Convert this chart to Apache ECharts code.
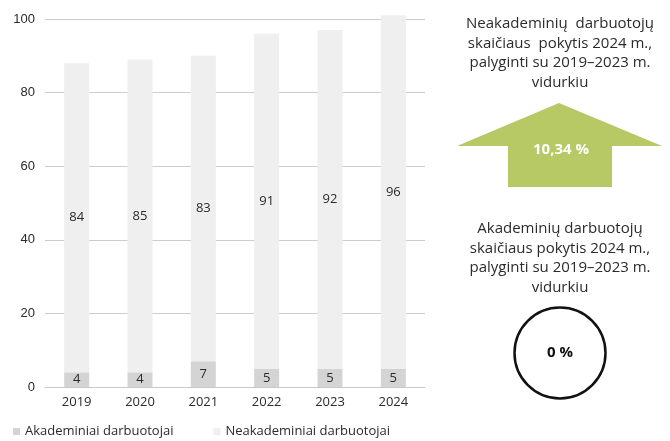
<!DOCTYPE html>
<html>
<head>
<meta charset="utf-8">
<script src="https://cdn.jsdelivr.net/npm/echarts@6/dist/echarts.min.js"></script>
<style>
  html, body { margin: 0; padding: 0; background: #fff; }
  #chart { width: 670px; height: 441px; }
</style>
</head>
<body>
<div id="chart"></div>
<script>
const years = ['2019', '2020', '2021', '2022', '2023', '2024']
const academic = [4, 4, 7, 5, 5, 5]
const nonAcademic = [84, 85, 83, 91, 92, 96]
const yTicks = [0, 20, 40, 60, 80, 100]
const nonAcademicChange = '10,34 %'
const academicChange = '0 %'

const font = '"Open Sans", "Noto Sans", sans-serif'
const textColor = '#2b2b2b'

const chart = echarts.init(document.getElementById('chart'))

const option = {
  animation: false,
  textStyle: { fontFamily: font },
  grid: { left: 45, right: 245, top: 19, bottom: 54 },
  legend: {
    left: 8,
    top: 420,
    itemWidth: 7,
    itemHeight: 7,
    itemGap: 40,
    icon: 'rect',
    textStyle: { fontFamily: font, fontSize: 13, color: textColor },
    data: ['Akademiniai darbuotojai', 'Neakademiniai darbuotojai']
  },
  xAxis: {
    type: 'category',
    data: years,
    axisTick: { show: false },
    axisLine: { lineStyle: { color: '#c8c8c8' } },
    axisLabel: { fontFamily: font, fontSize: 13, color: textColor, margin: 9 }
  },
  yAxis: {
    type: 'value',
    min: yTicks[0],
    max: yTicks[yTicks.length - 1],
    interval: 20,
    axisLabel: { fontFamily: 'Liberation Sans, Arial, sans-serif', fontSize: 13, color: textColor, margin: 10 },
    splitLine: { lineStyle: { color: '#cccccc' } }
  },
  series: [
    {
      name: 'Akademiniai darbuotojai',
      type: 'bar',
      stack: 'total',
      barWidth: 25,
      clip: false,
      itemStyle: { color: '#d4d4d4' },
      label: { show: true, position: 'inside', fontFamily: font, fontSize: 13, color: textColor },
      data: academic
    },
    {
      name: 'Neakademiniai darbuotojai',
      type: 'bar',
      stack: 'total',
      barWidth: 25,
      clip: false,
      itemStyle: { color: '#efefef' },
      label: { show: true, position: 'inside', fontFamily: font, fontSize: 13, color: textColor },
      data: nonAcademic
    }
  ],
  graphic: [
    {
      type: 'text',
      style: {
        text: 'Neakademinių  darbuotojų\nskaičiaus  pokytis 2024 m.,\npalyginti su 2019–2023 m.\nvidurkiu',
        x: 560, y: 14,
        textAlign: 'center',
        fontFamily: font, fontSize: 15, lineHeight: 19.5,
        fill: textColor
      }
    },
    {
      type: 'polygon',
      shape: {
        points: [[559, 103], [662, 146], [612, 146], [612, 187], [508, 187], [508, 146], [457, 146]]
      },
      style: { fill: '#b6c965' }
    },
    {
      type: 'text',
      style: {
        text: nonAcademicChange,
        x: 561, y: 150,
        textAlign: 'center', textVerticalAlign: 'middle',
        fontFamily: font, fontSize: 15, fontWeight: 'bold',
        fill: '#ffffff'
      }
    },
    {
      type: 'text',
      style: {
        text: 'Akademinių darbuotojų\nskaičiaus pokytis 2024 m.,\npalyginti su 2019–2023 m.\nvidurkiu',
        x: 560, y: 219,
        textAlign: 'center',
        fontFamily: font, fontSize: 15, lineHeight: 19.5,
        fill: textColor
      }
    },
    {
      type: 'circle',
      shape: { cx: 560, cy: 353, r: 45.5 },
      style: { fill: '#ffffff', stroke: '#111111', lineWidth: 2.5 }
    },
    {
      type: 'text',
      style: {
        text: academicChange,
        x: 560, y: 353,
        textAlign: 'center', textVerticalAlign: 'middle',
        fontFamily: font, fontSize: 15, fontWeight: 'bold',
        fill: '#111111'
      }
    }
  ]
}

chart.setOption(option)
</script>
</body>
</html>
